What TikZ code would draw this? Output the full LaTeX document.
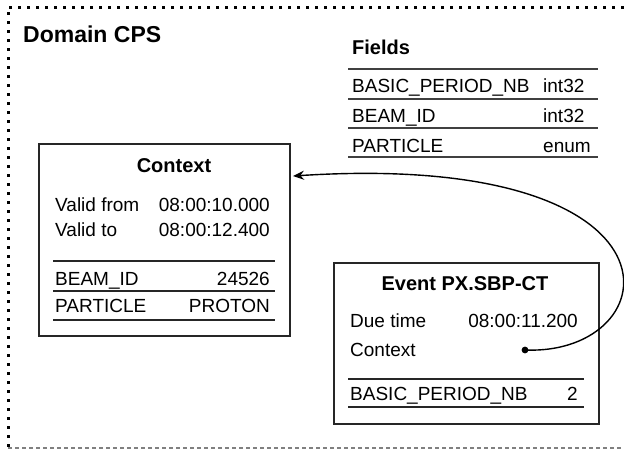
\documentclass[tikz,border=0pt]{standalone}
\usepackage{fontspec}
\setmainfont{Liberation Sans}
\usetikzlibrary{arrows.meta}
\tikzset{
  box/.style={draw=black!85, line width=1.7pt, fill=white, inner sep=0pt, anchor=north west},
  body/.style={inner sep=0pt, font=\fontsize{19}{22}\selectfont},
  lbl/.style={body, anchor=base west},
  val/.style={body, anchor=base east},
  ttl/.style={inner sep=0pt, anchor=base, font=\fontsize{20}{24}\selectfont\bfseries},
  rule/.style={line width=1.5pt, draw=black!85},
  fieldrule/.style={line width=1.8pt, draw=black!75},
  frame/.style={line width=3pt, dash pattern=on 3pt off 6pt},
  frameb/.style={line width=1.1pt, draw=black!50, dash pattern=on 3.5pt off 3.5pt},
  link/.style={line width=1.4pt, -{Stealth[length=11pt,width=9pt]}}
}
\begin{document}
\begin{tikzpicture}[x=1pt, y=-1pt]
\useasboundingbox (0,0) rectangle (624,451);

% domain frame
\coordinate (f1) at (8,7);
\coordinate (f2) at (624,7);
\coordinate (f3) at (8,448);
\coordinate (f4) at (624,448);
\draw[frame] (f2) -- (f1) -- (f3);
\draw[frameb] (f3) -- (f4);
\node[inner sep=0pt, anchor=base west, font=\fontsize{23}{27}\selectfont\bfseries] (dom) at (23,42) {Domain CPS};

% field table
\node[ttl, anchor=base west] (fields) at (352,54) {Fields};
\coordinate (r0l) at (348,69);  \coordinate (r0r) at (598,69);
\coordinate (r1l) at (348,99);  \coordinate (r1r) at (598,99);
\coordinate (r2l) at (348,128); \coordinate (r2r) at (598,128);
\coordinate (r3l) at (348,157); \coordinate (r3r) at (598,157);
\draw[fieldrule] (r0l) -- (r0r);
\draw[fieldrule] (r1l) -- (r1r);
\draw[fieldrule] (r2l) -- (r2r);
\draw[fieldrule] (r3l) -- (r3r);
\node[lbl] (fn1) at (352,92) {BASIC\_PERIOD\_NB};
\node[lbl] (ft1) at (543,92) {int32};
\node[lbl] (fn2) at (352,122) {BEAM\_ID};
\node[lbl] (ft2) at (543,122) {int32};
\node[lbl] (fn3) at (352,152) {PARTICLE};
\node[lbl] (ft3) at (543,152) {enum};

% context box
\node[box, minimum width=251pt, minimum height=192pt] (ctx) at (38,143) {};
\node[ttl] (ctxt) at (174,172) {Context};
\node[lbl] (c1) at (55,211) {Valid from};
\node[val] (c1v) at (270,211) {08:00:10.000};
\node[lbl] (c2) at (55,236) {Valid to};
\node[val] (c2v) at (270,236) {08:00:12.400};
\coordinate (cl0) at (53,261); \coordinate (cr0) at (275,261);
\coordinate (cl1) at (53,291); \coordinate (cr1) at (275,291);
\coordinate (cl2) at (53,320); \coordinate (cr2) at (275,320);
\draw[rule] (cl0) -- (cr0);
\draw[rule] (cl1) -- (cr1);
\draw[rule] (cl2) -- (cr2);
\node[lbl] (c3) at (55,285) {BEAM\_ID};
\node[val] (c3v) at (270,285) {24526};
\node[lbl] (c4) at (55,312) {PARTICLE};
\node[val] (c4v) at (270,312) {PROTON};

% event box
\node[box, minimum width=265pt, minimum height=161pt] (ev) at (333,262) {};
\node[ttl] (evt) at (465,290) {Event PX.SBP-CT};
\node[lbl] (e1) at (350,327) {Due time};
\node[val] (e1v) at (578,327) {08:00:11.200};
\node[lbl] (e2) at (350,356) {Context};
\coordinate (el0) at (348,379); \coordinate (er0) at (584,379);
\coordinate (el1) at (348,407); \coordinate (er1) at (584,407);
\draw[rule] (el0) -- (er0);
\draw[rule] (el1) -- (er1);
\node[lbl] (e3) at (350,400) {BASIC\_PERIOD\_NB};
\node[val] (e3v) at (578,400) {2};

% reference from the event to its context
\coordinate (ref) at (525,350);
\coordinate (ctxin) at (293,176);
\fill (ref) circle (3.4pt);
\draw[link] (ref) .. controls (670,356) and (700,150) .. (ctxin);
\end{tikzpicture}
\end{document}
